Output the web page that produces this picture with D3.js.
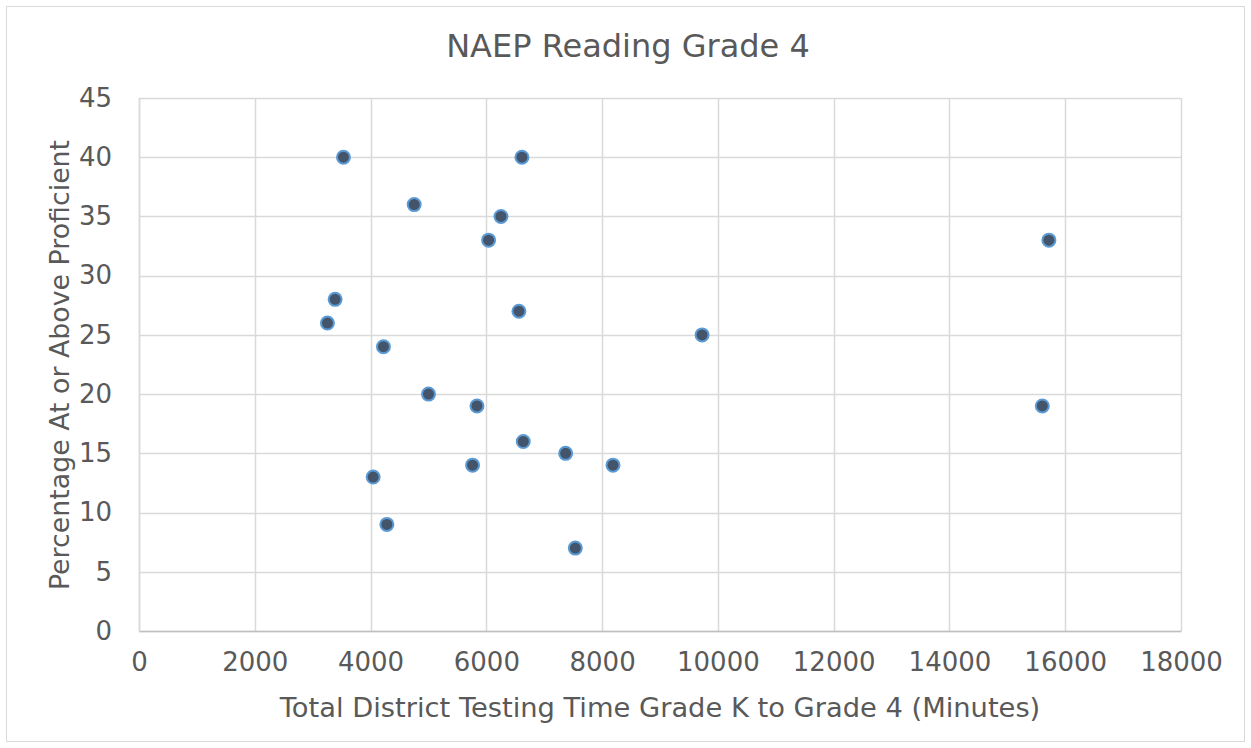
<!DOCTYPE html>
<html>
<head>
<meta charset="utf-8">
<script src="https://cdn.jsdelivr.net/npm/d3@7"></script>
<style>
  html, body { margin: 0; padding: 0; background: #fff; }
  svg { display: block; }
  text { font-family: "DejaVu Sans", Verdana, sans-serif; fill: #595959; }
</style>
</head>
<body>
<script>
// Data
const testingMinutes = [3532, 6615, 4754, 6253, 6039, 15718, 3388, 3255, 6563, 9727, 4223, 5001, 5838, 15604, 6638, 7370, 5762, 8188, 4045, 4282, 7537];
const pctProficient  = [40, 40, 36, 35, 33, 33, 28, 26, 27, 25, 24, 20, 19, 19, 16, 15, 14, 14, 13, 9, 7];
const xTicks = [0, 2000, 4000, 6000, 8000, 10000, 12000, 14000, 16000, 18000];
const yTicks = [0, 5, 10, 15, 20, 25, 30, 35, 40, 45];
const chartTitle = "NAEP Reading Grade 4";
const xTitle = "Total District Testing Time Grade K to Grade 4 (Minutes)";
const yTitle = "Percentage At or Above Proficient";

const W = 1251, H = 748;
const plot = { left: 139, right: 1181, top: 98, bottom: 631 };

const svg = d3.select("body").append("svg").attr("width", W).attr("height", H);

svg.append("rect").attr("x", 6.5).attr("y", 6.5).attr("width", W - 13).attr("height", H - 13)
  .attr("fill", "#fff").attr("stroke", "#d9d9d9").attr("stroke-width", 1);

const x = d3.scaleLinear().domain([0, 18000]).range([plot.left, plot.right]);
const y = d3.scaleLinear().domain([0, 45]).range([plot.bottom, plot.top]);

// Gridlines
const grid = svg.append("g");
grid.selectAll(".vg").data(xTicks).join("line")
  .attr("x1", d => Math.round(x(d)) + 0.5).attr("x2", d => Math.round(x(d)) + 0.5)
  .attr("y1", plot.top).attr("y2", plot.bottom)
  .attr("stroke", "#d9d9d9").attr("stroke-width", 1.5);
grid.selectAll(".hg").data(yTicks).join("line")
  .attr("x1", plot.left).attr("x2", plot.right)
  .attr("y1", d => Math.round(y(d)) + 0.5).attr("y2", d => Math.round(y(d)) + 0.5)
  .attr("stroke", "#d9d9d9").attr("stroke-width", 1.5);

// Axes
const xAxis = svg.append("g").attr("transform", `translate(0,${plot.bottom})`)
  .call(d3.axisBottom(x).tickValues(xTicks).tickSize(0).tickPadding(22).tickFormat(d3.format("d")));
xAxis.select(".domain").attr("stroke", "#bfbfbf").attr("stroke-width", 1.5);
xAxis.selectAll("text").style("font-size", "26px").style("fill", "#595959")
  .attr("font-family", "DejaVu Sans");

const yAxis = svg.append("g").attr("transform", `translate(${plot.left},0)`)
  .call(d3.axisLeft(y).tickValues(yTicks).tickSize(0).tickPadding(27).tickFormat(d3.format("d")));
yAxis.select(".domain").attr("stroke", "#d9d9d9").attr("stroke-width", 1.5);
yAxis.selectAll("text").style("font-size", "26px").style("fill", "#595959")
  .attr("font-family", "DejaVu Sans");

// Points
svg.append("g").selectAll("circle").data(testingMinutes.map((v, i) => [v, pctProficient[i]]))
  .join("circle")
  .attr("cx", d => x(d[0])).attr("cy", d => y(d[1])).attr("r", 6.5)
  .attr("fill", "#44546a").attr("stroke", "#5b9bd5").attr("stroke-width", 2);

// Titles
svg.append("text").attr("x", 628).attr("y", 46).attr("text-anchor", "middle")
  .attr("dominant-baseline", "central").style("font-size", "32px").text(chartTitle);
svg.append("text").attr("x", 660).attr("y", 707).attr("text-anchor", "middle")
  .attr("dominant-baseline", "central").style("font-size", "27.3px").text(xTitle);
svg.append("text").attr("transform", "translate(59,365) rotate(-90)").attr("text-anchor", "middle")
  .attr("dominant-baseline", "central").style("font-size", "26.8px").text(yTitle);
</script>
</body>
</html>
